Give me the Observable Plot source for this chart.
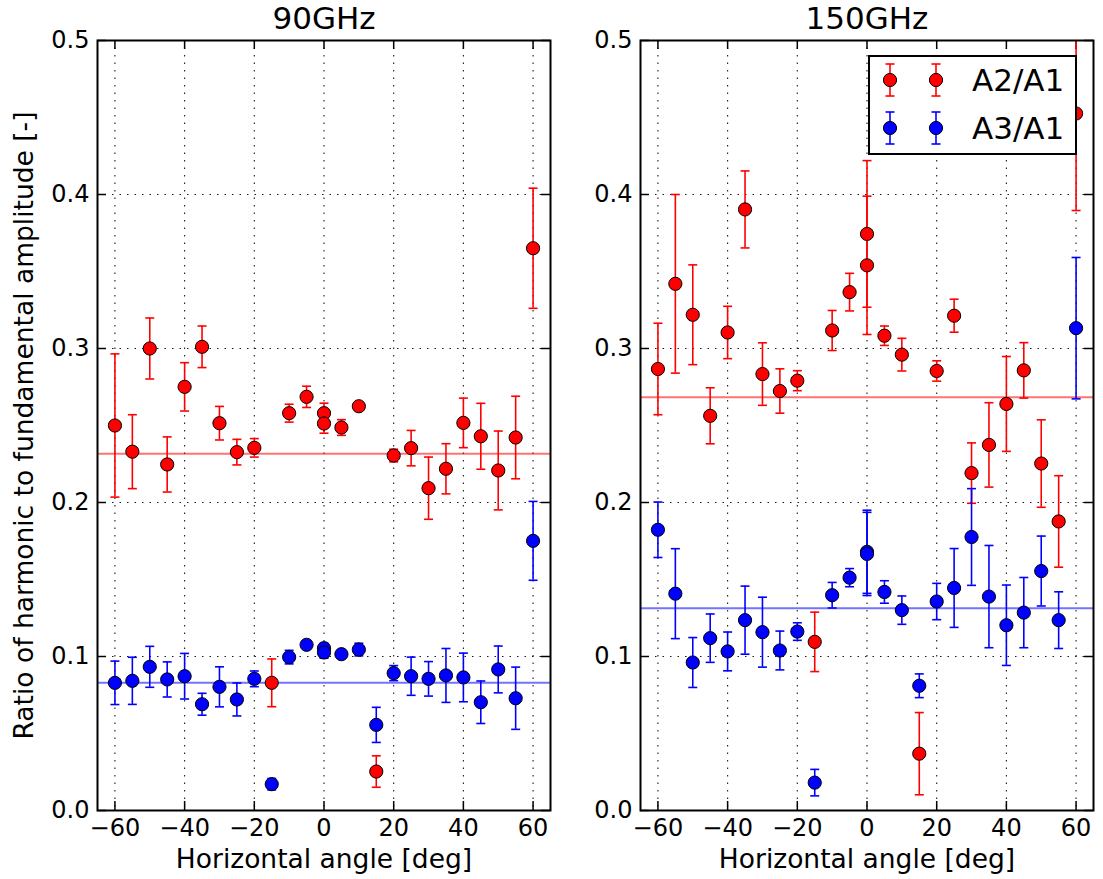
<!DOCTYPE html>
<html>
<head>
<meta charset="utf-8">
<script src="https://cdn.jsdelivr.net/npm/d3@7"></script>
<script src="https://cdn.jsdelivr.net/npm/@observablehq/plot@0.6"></script>
<style>
  body { margin: 0; background: #fff; }
  #fig { position: relative; width: 1103px; height: 879px; overflow: hidden; background: #fff; font-family: "DejaVu Sans", sans-serif; }
  #fig > svg, #fig > div { position: absolute; top: 0; }
</style>
</head>
<body>
<div id="fig"></div>
<script>
// ---------- data ----------
const angles = [-60,-55,-50,-45,-40,-35,-30,-25,-20,-15,-10,-5,0,0,5,10,15,20,25,30,35,40,45,50,55,60];

// 90GHz
const a2_90    = [0.250,0.233,0.300,0.2247,0.2751,0.3011,0.2515,0.2327,0.2355,0.0829,0.258,0.2686,0.258,0.2513,0.2487,0.2625,0.0253,0.2305,0.2353,0.2093,0.2219,0.2517,0.243,0.2208,0.2422,0.3651];
const a2err_90 = [0.0465,0.024,0.0198,0.0179,0.0157,0.0135,0.0109,0.0083,0.006,0.0155,0.0058,0.0069,0.0065,0.0063,0.0051,0.0015,0.0102,0.0041,0.0115,0.0202,0.0163,0.0161,0.0214,0.0256,0.0268,0.039];
const a3_90    = [0.0829,0.0842,0.0933,0.0851,0.0872,0.069,0.0803,0.0721,0.0855,0.0171,0.0996,0.1076,0.1054,0.1026,0.1015,0.1045,0.0556,0.0892,0.0872,0.0855,0.0877,0.0864,0.0703,0.0916,0.0729,0.1751];
const a3err_90 = [0.0141,0.0153,0.0133,0.0114,0.0148,0.0071,0.013,0.0107,0.0051,0.0037,0.0044,0.002,0.0032,0.0037,0.0015,0.0041,0.0114,0.0049,0.0124,0.0112,0.0175,0.0158,0.0138,0.0152,0.0202,0.0256];
const mean2_90 = 0.2316;
const mean3_90 = 0.0829;

// 150GHz
const a2_150    = [0.2867,0.342,0.3219,0.2563,0.3104,0.3903,0.2834,0.2724,0.2791,0.1095,0.3117,0.3366,0.3744,0.354,0.3083,0.296,0.0369,0.2854,0.3213,0.2191,0.2374,0.264,0.2858,0.2253,0.1877,0.4526];
const a2err_150 = [0.0297,0.058,0.0324,0.0182,0.017,0.025,0.0203,0.0144,0.0065,0.0193,0.013,0.0122,0.0476,0.0449,0.0063,0.0106,0.0267,0.0066,0.0107,0.0196,0.0274,0.0308,0.018,0.0284,0.0297,0.063];
const a3_150    = [0.1823,0.1408,0.0961,0.1119,0.1033,0.1236,0.1158,0.1039,0.1162,0.0181,0.1398,0.1512,0.168,0.1666,0.1419,0.1301,0.081,0.1357,0.1445,0.1776,0.1389,0.1203,0.1285,0.1555,0.1236,0.3132];
const a3err_150 = [0.018,0.0292,0.0162,0.0157,0.0126,0.0221,0.0227,0.0126,0.0057,0.0086,0.0083,0.0059,0.027,0.027,0.0073,0.0092,0.0077,0.0118,0.0256,0.0314,0.0332,0.0261,0.0228,0.0227,0.0184,0.0459];
const mean2_150 = 0.2683;
const mean3_150 = 0.1314;

const titles = ["90GHz", "150GHz"];
const xTicks = [-60,-40,-20,0,20,40,60];
const yTicks = [0,0.1,0.2,0.3,0.4,0.5];
const xLabel = "Horizontal angle [deg]";
const yLabel = "Ratio of harmonic to fundamental amplitude [-]";
const seriesNames = ["A2/A1", "A3/A1"];
const RED = "#ff0000", BLUE = "#0000ff";

// ---------- drawing ----------
const capSymbol = {
  draw(ctx, size) {
    const w = Math.sqrt(size / Math.PI);
    ctx.moveTo(-w, 0); ctx.lineTo(w, 0);
  }
};
const fmtX = d => d < 0 ? "\u2212" + Math.abs(d) : String(d);
const fmtY = d3.format(".1f");

function rows(vals, errs) {
  return angles.map((x, i) => ({x, v: vals[i], e: errs[i]}));
}

function seriesMarks(data, color) {
  return [
    Plot.ruleX(data, {x: "x", y1: d => d.v - d.e, y2: d => d.v + d.e, stroke: color, strokeWidth: 1.6, clip: true}),
    Plot.dot(data, {x: "x", y: d => d.v + d.e, symbol: capSymbol, r: 4.5, stroke: color, strokeWidth: 1.6, fill: "none", clip: true}),
    Plot.dot(data, {x: "x", y: d => d.v - d.e, symbol: capSymbol, r: 4.5, stroke: color, strokeWidth: 1.6, fill: "none", clip: true}),
    Plot.dot(data, {x: "x", y: "v", r: 6.6, fill: color, stroke: "black", strokeWidth: 1, clip: true})
  ];
}

function panel({title, a2, a2e, a3, a3e, m2, m3, width, marginLeft, showYLabel}) {
  const marginTop = 40, marginBottom = 69, marginRight = 10, height = 879;
  const H = height - marginTop - marginBottom;
  const W = width - marginLeft - marginRight;
  const tick = 9;
  return Plot.plot({
    width, height, marginLeft, marginRight, marginTop, marginBottom,
    style: {fontFamily: "DejaVu Sans, sans-serif", fontSize: "24px", color: "black", background: "transparent", overflow: "visible"},
    x: {domain: [-65, 65], ticks: xTicks, tickFormat: fmtX, tickSize: 0, tickPadding: 8, label: null},
    y: {domain: [0, 0.5], ticks: yTicks, tickFormat: fmtY, tickSize: 0, tickPadding: 8, label: null},
    marks: [
      Plot.gridX(xTicks, {stroke: "black", strokeOpacity: 0.9, strokeWidth: 1.1, strokeDasharray: "1.5,6"}),
      Plot.gridY(yTicks, {stroke: "black", strokeOpacity: 0.9, strokeWidth: 1.1, strokeDasharray: "1.5,6"}),
      Plot.tickX(xTicks, {x: d => d, insetTop: H - tick, stroke: "black", strokeWidth: 1.5}),
      Plot.tickX(xTicks, {x: d => d, insetBottom: H - tick, stroke: "black", strokeWidth: 1.5}),
      Plot.tickY(yTicks, {y: d => d, insetRight: W - tick, stroke: "black", strokeWidth: 1.5}),
      Plot.tickY(yTicks, {y: d => d, insetLeft: W - tick, stroke: "black", strokeWidth: 1.5}),
      Plot.ruleY([m2], {stroke: RED, strokeOpacity: 0.55, strokeWidth: 2}),
      Plot.ruleY([m3], {stroke: BLUE, strokeOpacity: 0.55, strokeWidth: 2}),
      ...seriesMarks(rows(a2, a2e), RED),
      ...seriesMarks(rows(a3, a3e), BLUE),
      Plot.frame({stroke: "black", strokeWidth: 2}),
      Plot.text([title], {frameAnchor: "top", dy: -12, lineAnchor: "bottom", fontSize: 31, fill: "black"}),
      Plot.text([xLabel], {frameAnchor: "bottom", dy: 39, lineAnchor: "top", fontSize: 26.5, fill: "black"}),
      showYLabel ? Plot.text([yLabel], {frameAnchor: "left", dx: -72.5, rotate: -90, textAnchor: "middle", lineAnchor: "middle", fontSize: 26.5, fill: "black"}) : null
    ]
  });
}

const fig = document.getElementById("fig");

const left = panel({title: titles[0], a2: a2_90, a2e: a2err_90, a3: a3_90, a3e: a3err_90, m2: mean2_90, m3: mean3_90, width: 560, marginLeft: 97, showYLabel: true});
left.style.left = "0px";
fig.appendChild(left);

const right = panel({title: titles[1], a2: a2_150, a2e: a2err_150, a3: a3_150, a3e: a3err_150, m2: mean2_150, m3: mean3_150, width: 543, marginLeft: 80, showYLabel: false});
right.style.left = "560px";
fig.appendChild(right);

// ---------- legend (overlay on right panel) ----------
const legW = 209, legH = 100;
const leg = d3.create("svg")
  .attr("width", legW).attr("height", legH)
  .style("position", "absolute").style("left", "868px").style("top", "55px");
leg.append("rect").attr("x", 1).attr("y", 1).attr("width", legW - 2).attr("height", legH - 2)
  .attr("fill", "white").attr("stroke", "black").attr("stroke-width", 2);
const legRows = [{name: seriesNames[0], color: RED, cy: 25}, {name: seriesNames[1], color: BLUE, cy: 73}];
for (const r of legRows) {
  for (const cx of [22, 68]) {
    const g = leg.append("g").attr("stroke", r.color).attr("stroke-width", 1.6);
    g.append("line").attr("x1", cx).attr("x2", cx).attr("y1", r.cy - 16).attr("y2", r.cy + 16);
    g.append("line").attr("x1", cx - 4.5).attr("x2", cx + 4.5).attr("y1", r.cy - 16).attr("y2", r.cy - 16);
    g.append("line").attr("x1", cx - 4.5).attr("x2", cx + 4.5).attr("y1", r.cy + 16).attr("y2", r.cy + 16);
    leg.append("circle").attr("cx", cx).attr("cy", r.cy).attr("r", 6.6)
      .attr("fill", r.color).attr("stroke", "black").attr("stroke-width", 1);
  }
  leg.append("text").attr("x", 104).attr("y", r.cy).attr("dy", "0.36em")
    .attr("font-family", "DejaVu Sans, sans-serif").attr("font-size", 31).attr("fill", "black")
    .text(r.name);
}
fig.appendChild(leg.node());
</script>
</body>
</html>
